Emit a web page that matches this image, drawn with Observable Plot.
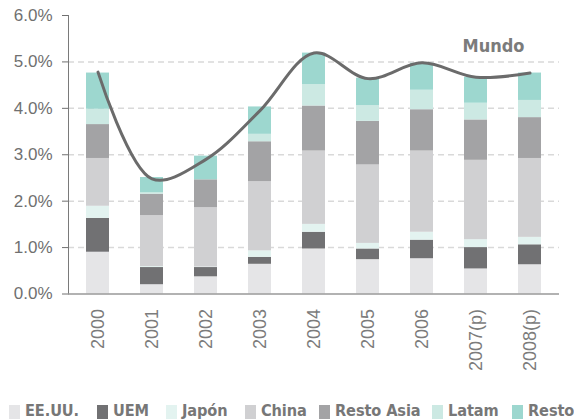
<!DOCTYPE html>
<html>
<head>
<meta charset="utf-8">
<script src="https://cdn.jsdelivr.net/npm/d3@7"></script>
<script src="https://cdn.jsdelivr.net/npm/@observablehq/plot@0.6"></script>
<style>
  html, body { margin: 0; padding: 0; background: #fff; }
  #wrap { position: relative; width: 574px; height: 419px; overflow: hidden; }
  #legend { position: absolute; left: 0; top: 403px; width: 574px; height: 16px; }
  .item { position: absolute; top: 0; display: flex; align-items: flex-start; white-space: nowrap;
    font-family: "Liberation Sans Narrow", "Arial Narrow", "DejaVu Sans Condensed", sans-serif;
    font-stretch: condensed; font-weight: bold; font-size: 16.2px; line-height: 16.2px; color: #777; letter-spacing: -0.1px; }
  .sw { width: 11px; height: 14px; margin-top: 2px; margin-right: 5px; }
</style>
</head>
<body>
<div id="wrap"><div id="chart"></div><div id="legend"></div></div>
<script>
const years = ["2000","2001","2002","2003","2004","2005","2006","2007(p)","2008(p)"];
const regions = ["EE.UU.","UEM","Japón","China","Resto Asia","Latam","Resto"];
const colors = ["#e5e5e7","#717173","#e3f3f0","#d0d0d2","#a3a3a5","#cce9e3","#9dd7cf"];

const eeuu      = [0.90,0.20,0.37,0.64,0.97,0.74,0.76,0.54,0.63];
const uem       = [0.73,0.37,0.20,0.15,0.36,0.23,0.40,0.46,0.43];
const japon     = [0.26,0.02,0.01,0.14,0.17,0.12,0.17,0.17,0.16];
const china     = [1.03,1.10,1.28,1.49,1.58,1.69,1.75,1.71,1.70];
const restoAsia = [0.73,0.46,0.60,0.86,0.97,0.94,0.89,0.87,0.88];
const latam     = [0.33,0.03,0.00,0.16,0.46,0.34,0.42,0.36,0.37];
const resto     = [0.78,0.33,0.51,0.59,0.68,0.59,0.58,0.56,0.59];
const mundo     = [4.78,2.48,2.90,3.95,5.19,4.64,4.98,4.67,4.76];

const yTicks = [0,1,2,3,4,5,6];
const gridTicks = [1,2,3,4,5];
const mundoLabel = {year: "2008(p)", v: 5.33, text: "Mundo"};

const series = [eeuu, uem, japon, china, restoAsia, latam, resto];
const rows = years.flatMap((yr, i) => regions.map((r, k) => ({year: yr, region: r, value: series[k][i]})));
const lineRows = years.map((yr, i) => ({year: yr, v: mundo[i]}));

const narrow = '"Liberation Sans Narrow", "Arial Narrow", "DejaVu Sans Condensed", sans-serif';

const chart = Plot.plot({
  width: 574, height: 398,
  marginLeft: 68, marginRight: 15, marginTop: 15, marginBottom: 104.5,
  style: {fontFamily: '"Liberation Sans", Arial, sans-serif', fontSize: "17px", color: "#707070", background: "white", overflow: "visible"},
  x: {domain: years, paddingInner: 0.58, paddingOuter: 0.27, label: null},
  y: {domain: [0, 6], label: null},
  color: {domain: regions, range: colors},
  marks: [
    Plot.ruleY(gridTicks, {stroke: "#d9d9d9", strokeWidth: 1.5, strokeDasharray: "6,4"}),
    Plot.barY(rows, {x: "year", y: "value", fill: "region", order: regions}),
    Plot.axisY({ticks: yTicks, tickFormat: d => d.toFixed(1) + "%", tickSize: 6, tickPadding: 10, fontSize: 17, label: null}),
    Plot.axisX({tickSize: 0, tickRotate: -90, tickPadding: 15, fontSize: 18, label: null, color: "#7c7c7c"}),
    Plot.frame({anchor: "left", stroke: "#7a7a7a"}),
    Plot.ruleY([0], {stroke: "#999", strokeWidth: 1.5}),
    Plot.line(lineRows, {x: "year", y: "v", curve: "catmull-rom", stroke: "#6b6b6b", strokeWidth: 3}),
    Plot.text([mundoLabel], {x: "year", y: "v", text: "text", dx: -5.5, textAnchor: "end", fontWeight: "bold", fontSize: 18, fill: "#7b7b7b", fontFamily: narrow})
  ]
});
document.getElementById("chart").appendChild(chart);

const legendLeft = [9, 97, 166, 245, 319, 432, 512];
const legend = document.getElementById("legend");
regions.forEach((r, k) => {
  const it = document.createElement("div");
  it.className = "item";
  it.style.left = legendLeft[k] + "px";
  const sw = document.createElement("span");
  sw.className = "sw";
  sw.style.background = colors[k];
  const tx = document.createElement("span");
  tx.textContent = r;
  it.appendChild(sw); it.appendChild(tx);
  legend.appendChild(it);
});
</script>
</body>
</html>
